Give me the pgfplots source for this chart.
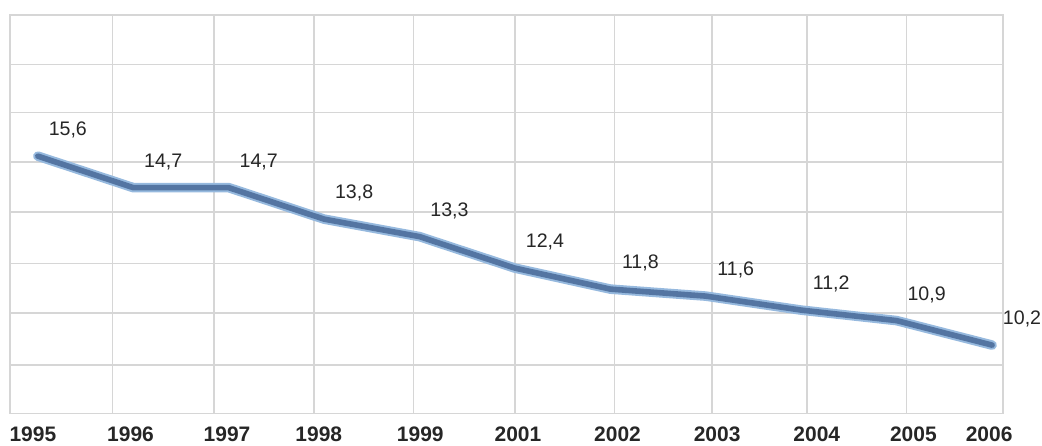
\documentclass[border=0pt]{standalone}
\usepackage{pgfplots}
\pgfplotsset{compat=1.18}
\usepackage{pgfplotstable}
\usepackage{fontspec}
\setmainfont{Liberation Sans}
\definecolor{gridc}{RGB}{214,214,214}
\definecolor{lineglow}{RGB}{150,185,222}
\definecolor{linecore}{RGB}{84,117,162}
\pgfplotstableread{
x y lab
0 15.6 {15,6}
1 14.7 {14,7}
2 14.7 {14,7}
3 13.8 {13,8}
4 13.3 {13,3}
5 12.4 {12,4}
6 11.8 {11,8}
7 11.6 {11,6}
8 11.2 {11,2}
9 10.9 {10,9}
10 10.2 {10,2}
}\datatable
\begin{document}
\begin{tikzpicture}
\begin{axis}[
  name=ax,
  scale only axis,
  width=497pt, height=199.5pt,
  xmin=-0.292, xmax=10.115,
  ymin=8.242, ymax=19.634,
  xtick={-0.052,0.971,1.983,2.944,4.008,5.031,6.075,7.119,8.163,9.175,9.969},
  xticklabels={1995,1996,1997,1998,1999,2001,2002,2003,2004,2005,2006},
  ytick={18.214,16.85,15.43,14.009,12.532,11.111,9.634},
  yticklabels={},
  ymajorgrids=true,
  major grid style={draw=gridc, line width=0.8pt},
  minor xtick={0.783,1.848,2.891,3.935,5.0,6.044,7.067,8.058,9.102},
  xminorgrids=true,
  minor grid style={draw=gridc, line width=0.8pt},
  major tick length=0pt, minor tick length=0pt,
  axis line style={draw=gridc, line width=0.8pt},
  xticklabel style={font=\bfseries\fontsize{10.5}{12}\selectfont, anchor=north, yshift=-3pt, text=black!85},
  clip=false,
]
\addplot[lineglow, line width=4.8pt, line join=round, line cap=round] table[x=x, y=y] {\datatable};
\addplot[linecore, line width=2.8pt, line join=round, line cap=round,
  nodes near coords, point meta=explicit symbolic,
  every node near coord/.style={anchor=center, xshift=15pt, yshift=13pt, font=\fontsize{9.8}{11}\selectfont, text=black!85}]
  table[x=x, y=y, meta=lab] {\datatable};
\end{axis}
\pgfresetboundingbox
\path[use as bounding box] ([xshift=-5pt,yshift=-16pt]ax.south west) rectangle ([xshift=19.5pt,yshift=7.5pt]ax.north east);
\end{tikzpicture}
\end{document}
